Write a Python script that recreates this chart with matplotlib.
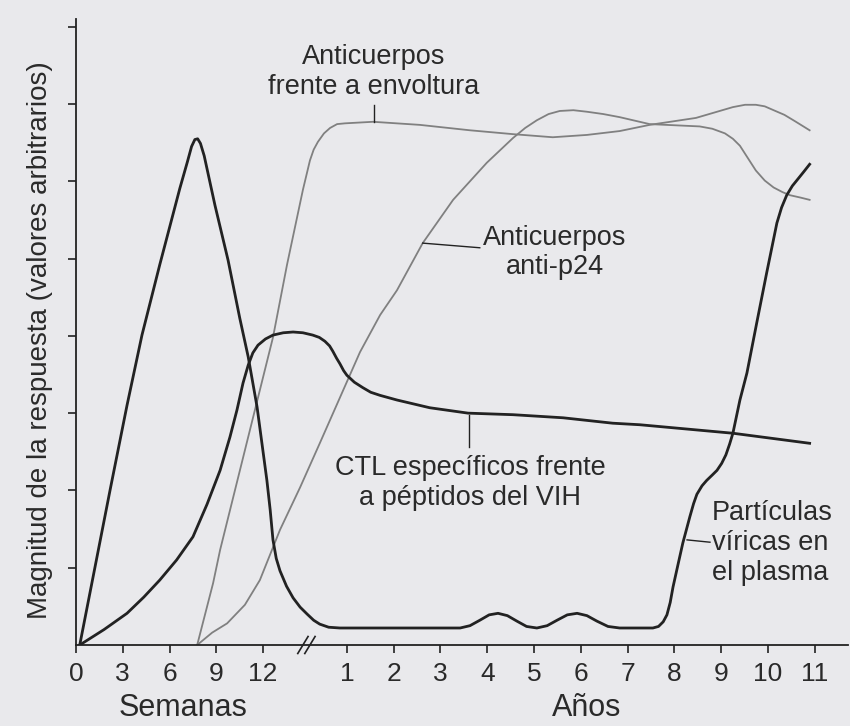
import numpy as np
import matplotlib.pyplot as plt

plt.rcParams['font.family'] = ['Liberation Sans', 'DejaVu Sans']

# eje x en unidades de marca: semanas -> sem/3, años -> año + 4.79 (después del corte //)
semanas = [0, 3, 6, 9, 12]
anios = list(range(1, 12))
desp_anios = 4.79

# Partículas víricas en el plasma
vir_t = [0.08, 0.73, 1.09, 1.41, 1.79, 2.22, 2.38, 2.47, 2.54, 2.60, 2.66, 2.74, 2.97, 3.25,
         3.50, 3.68, 3.87, 4.08, 4.15, 4.21, 4.28, 4.36, 4.50, 4.64, 4.79, 4.94, 5.08, 5.21,
         5.40, 5.64, 8.21, 8.42, 8.63, 8.83, 9.02, 9.22, 9.42, 9.63, 9.85, 10.07, 10.28,
         10.50, 10.71, 10.92, 11.13, 11.37, 11.62, 12.33, 12.45, 12.55, 12.63, 12.70, 12.76,
         12.87, 12.97, 13.12, 13.20, 13.27, 13.38, 13.48, 13.60, 13.70, 13.80, 13.89, 13.97,
         14.04, 14.19, 14.34, 14.55, 14.76, 14.98, 15.08, 15.19, 15.31, 15.43, 15.55, 15.68]
vir_y = [0.0, 2.01, 3.10, 4.01, 4.92, 5.91, 6.25, 6.45, 6.54, 6.55, 6.49, 6.33, 5.69, 4.98,
         4.23, 3.73, 3.08, 2.13, 1.75, 1.36, 1.12, 0.96, 0.76, 0.61, 0.49, 0.40, 0.32, 0.27,
         0.23, 0.22, 0.22, 0.25, 0.32, 0.39, 0.41, 0.38, 0.31, 0.24, 0.22, 0.25, 0.32,
         0.39, 0.41, 0.38, 0.31, 0.24, 0.22, 0.22, 0.24, 0.30, 0.39, 0.55, 0.75,
         1.05, 1.32, 1.66, 1.83, 1.95, 2.06, 2.13, 2.20, 2.26, 2.35, 2.46, 2.60,
         2.74, 3.17, 3.52, 4.17, 4.81, 5.46, 5.66, 5.82, 5.94, 6.03, 6.12, 6.22]

# CTL específicos frente a péptidos del VIH
ctl_t = [0.08, 0.60, 1.09, 1.45, 1.79, 2.15, 2.50, 2.80, 3.08, 3.29, 3.44, 3.57, 3.68, 3.78,
         3.89, 4.05, 4.21, 4.43, 4.64, 4.85, 5.06, 5.20, 5.32, 5.42, 5.49, 5.57, 5.64, 5.72,
         5.79, 5.95, 6.13, 6.30, 6.50, 6.86, 7.56, 8.38, 9.34, 10.41, 11.47, 12.05, 14.04,
         15.68]
ctl_y = [0.0, 0.20, 0.41, 0.62, 0.84, 1.10, 1.40, 1.82, 2.26, 2.69, 3.04, 3.39, 3.62, 3.78,
         3.88, 3.96, 4.01, 4.04, 4.05, 4.04, 4.01, 3.98, 3.93, 3.87, 3.80, 3.71, 3.64, 3.55,
         3.49, 3.40, 3.33, 3.27, 3.23, 3.17, 3.07, 3.00, 2.98, 2.94, 2.87, 2.85, 2.74,
         2.61]

# Anticuerpos frente a envoltura
env_t = [2.59, 2.93, 3.08, 3.61, 4.21, 4.51, 4.85, 5.00, 5.08, 5.17, 5.30, 5.43, 5.58, 5.75,
         6.35, 7.35, 8.42, 9.34, 10.19, 10.92, 11.62, 12.26, 13.25, 14.04, 14.30, 14.53,
         14.72, 14.91, 15.14, 15.36, 15.68]
env_y = [0.0, 0.80, 1.23, 2.52, 3.98, 4.92, 5.89, 6.27, 6.41, 6.51, 6.62, 6.69, 6.74, 6.75,
         6.77, 6.73, 6.66, 6.61, 6.57, 6.60, 6.65, 6.73, 6.82, 6.96, 6.99, 6.99,
         6.97, 6.92, 6.86, 6.78, 6.66]

# Anticuerpos anti-p24
p24_t = [2.59, 2.91, 3.23, 3.61, 3.93, 4.36, 4.79, 5.21, 5.64, 6.07, 6.50, 6.86, 7.41, 8.06,
         8.78, 9.34, 9.60, 9.85, 10.10, 10.34, 10.63, 10.92, 11.27, 11.62, 12.26, 13.33,
         13.60, 13.87, 14.04, 14.19, 14.36, 14.53, 14.72, 14.91, 15.10, 15.26, 15.48, 15.68]
p24_y = [0.0, 0.16, 0.28, 0.52, 0.84, 1.49, 2.04, 2.61, 3.20, 3.79, 4.27, 4.59, 5.20, 5.76,
         6.24, 6.56, 6.69, 6.79, 6.87, 6.91, 6.92, 6.90, 6.87, 6.83, 6.74, 6.71,
         6.68, 6.62, 6.55, 6.46, 6.30, 6.14, 6.01, 5.92, 5.86, 5.82, 5.79, 5.76]

fondo = '#e9e9ec'
negro = '#222222'
gris = '#808080'
texto = '#2a2a2a'

fig = plt.figure(figsize=(8.5, 7.26), dpi=100, facecolor=fondo)
ax = fig.add_axes([76 / 850, 1 - 645 / 726, 772 / 850, 626 / 726])
ax.set_facecolor(fondo)

ax.plot(env_t, env_y, color=gris, lw=1.3, solid_joinstyle='round')
ax.plot(p24_t, p24_y, color=gris, lw=1.3, solid_joinstyle='round')
ax.plot(ctl_t, ctl_y, color=negro, lw=2.0, solid_joinstyle='round')
ax.plot(vir_t, vir_y, color=negro, lw=2.0, solid_joinstyle='round')

ax.set_xlim(0, 16.5)
ax.set_ylim(0, 8.1)

pos_sem = [s / 3 for s in semanas]
pos_anios = [a + desp_anios for a in anios]
ax.set_xticks(pos_sem + pos_anios)
ax.set_xticklabels([str(s) for s in semanas] + [str(a) for a in anios])
ax.set_yticks(range(1, 9))
ax.set_yticklabels([])
ax.tick_params(axis='both', direction='out', length=6, width=1.2, color=negro,
               labelsize=19, labelcolor=texto, pad=6)

for lado in ['top', 'right']:
    ax.spines[lado].set_visible(False)
for lado in ['left', 'bottom']:
    ax.spines[lado].set_linewidth(1.3)
    ax.spines[lado].set_color(negro)

# marca de corte //
for xc in [4.85, 5.0]:
    ax.plot([xc - 0.11, xc + 0.11], [-0.11, 0.11], color=negro, lw=1.2, clip_on=False)

# rótulos de las curvas
ax.text(6.37, 7.42, 'Anticuerpos\nfrente a envoltura', ha='center', va='center',
        fontsize=19.5, color=texto, linespacing=1.2)
ax.plot([6.37, 6.37], [6.99, 6.77], color=negro, lw=1.0)

ax.text(10.24, 5.08, 'Anticuerpos\nanti-p24', ha='center', va='center',
        fontsize=19.5, color=texto, linespacing=1.15)
ax.plot([7.41, 8.63], [5.20, 5.14], color=negro, lw=1.0)

ax.text(8.42, 2.09, 'CTL específicos frente\na péptidos del VIH', ha='center', va='center',
        fontsize=19.5, color=texto, linespacing=1.2)
ax.plot([8.40, 8.40], [2.98, 2.56], color=negro, lw=1.0)

ax.text(13.59, 1.32, 'Partículas\nvíricas en\nel plasma', ha='left', va='center',
        fontsize=19.5, color=texto, linespacing=1.2)
ax.plot([13.06, 13.55], [1.36, 1.33], color=negro, lw=1.0)

# títulos de los ejes
ax.text(2.29, -0.815, 'Semanas', ha='center', va='center', fontsize=22, color=texto,
        clip_on=False)
ax.text(10.92, -0.815, 'Años', ha='center', va='center', fontsize=22, color=texto,
        clip_on=False)
fig.text(40 / 850, 1 - 340 / 726, 'Magnitud de la respuesta (valores arbitrarios)',
         rotation=90, ha='center', va='center', fontsize=20, color=texto)

fig.savefig('out.png', dpi=100, facecolor=fondo)
